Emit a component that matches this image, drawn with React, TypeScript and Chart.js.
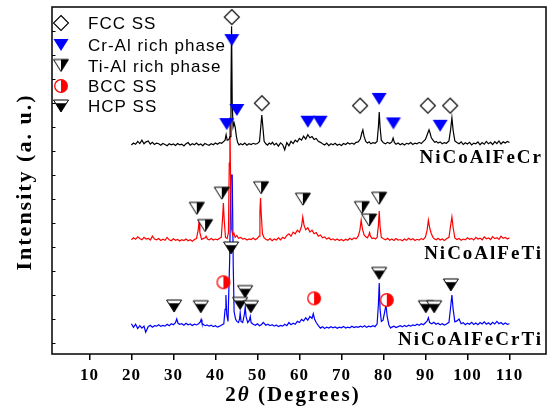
import { useEffect, useRef } from 'react';
import { Chart, registerables } from 'chart.js';

Chart.register(...registerables);

type Pt = [number, number];

// 2θ (deg), displayed intensity (a.u., offset traces)
const traceCr: Pt[] = [
  [20, 8.25], [20.5, 8.33], [21, 8.28], [21.5, 8.4], [22, 8.31], [22.5, 8.45], [23, 8.3], [23.5, 8.38], [24, 8.42], [24.5, 8.29],
  [25, 8.36], [25.5, 8.27], [26, 8.33], [26.5, 8.3], [27, 8.24], [27.5, 8.31], [28, 8.27], [28.5, 8.22], [29, 8.3], [29.5, 8.26],
  [30, 8.29], [30.5, 8.23], [31, 8.31], [31.5, 8.26], [32, 8.28], [32.5, 8.21], [33, 8.3], [33.5, 8.35], [34, 8.24], [34.5, 8.3],
  [35, 8.26], [35.5, 8.33], [36, 8.25], [36.5, 8.29], [37, 8.22], [37.5, 8.31], [38, 8.27], [38.5, 8.24], [39, 8.3], [39.5, 8.26],
  [40, 8.33], [40.5, 8.28], [41, 8.35], [41.5, 8.32], [42, 8.4], [42.3, 8.45], [42.55, 8.68], [42.8, 8.45], [43.2, 8.48], [43.5, 8.6],
  [43.7, 10.5], [43.85, 13.2], [44.0, 10.0], [44.2, 9.0], [44.45, 9.17], [44.7, 9.0], [45.0, 8.6], [45.3, 8.35], [45.6, 8.25], [46, 8.3],
  [46.5, 8.26], [47, 8.33], [47.5, 8.24], [48, 8.3], [48.5, 8.27], [49, 8.32], [49.5, 8.29], [50, 8.31], [50.5, 8.4], [50.8, 9.0],
  [51.05, 9.5], [51.3, 9.0], [51.6, 8.4], [52, 8.3], [52.4, 8.24], [52.8, 8.33], [53.2, 8.28], [53.6, 8.36], [54, 8.25], [54.5, 8.32],
  [55, 8.2], [55.5, 8.34], [56, 8.27], [56.5, 8.05], [57, 8.35], [57.5, 8.22], [58, 8.4], [58.5, 8.31], [59, 8.45], [59.5, 8.38],
  [60, 8.52], [60.5, 8.45], [61, 8.62], [61.5, 8.5], [62, 8.68], [62.5, 8.55], [63, 8.6], [63.5, 8.48], [64, 8.52], [64.5, 8.4],
  [65, 8.36], [65.5, 8.3], [66, 8.25], [66.5, 8.33], [67, 8.22], [67.5, 8.3], [68, 8.26], [68.5, 8.32], [69, 8.24], [69.5, 8.28],
  [70, 8.23], [70.5, 8.31], [71, 8.27], [71.5, 8.34], [72, 8.29], [72.5, 8.33], [73, 8.28], [73.5, 8.36], [74, 8.38], [74.5, 8.5],
  [74.85, 8.75], [75.1, 8.88], [75.4, 8.6], [75.8, 8.4], [76.2, 8.33], [76.6, 8.38], [77, 8.3], [77.5, 8.35], [78, 8.32], [78.5, 8.4],
  [78.8, 9.0], [79.0, 9.62], [79.2, 9.0], [79.5, 8.45], [80, 8.34], [80.5, 8.3], [81, 8.36], [81.5, 8.31], [82, 8.38], [82.3, 8.54],
  [82.6, 8.36], [83, 8.28], [83.5, 8.33], [84, 8.26], [84.5, 8.31], [85, 8.25], [85.5, 8.32], [86, 8.29], [86.5, 8.35], [87, 8.27],
  [87.5, 8.33], [88, 8.3], [88.5, 8.36], [89, 8.31], [89.5, 8.4], [90, 8.48], [90.5, 8.72], [90.85, 8.88], [91.1, 8.75], [91.4, 8.55],
  [91.8, 8.45], [92.2, 8.36], [92.6, 8.4], [93, 8.33], [93.5, 8.38], [94, 8.3], [94.5, 8.35], [95, 8.32], [95.6, 8.42], [96.0, 8.9],
  [96.3, 9.38], [96.6, 8.85], [97, 8.42], [97.5, 8.35], [98, 8.3], [98.5, 8.38], [99, 8.27], [99.5, 8.34], [100, 8.29], [100.5, 8.36],
  [101, 8.25], [101.5, 8.33], [102, 8.3], [102.5, 8.38], [103, 8.26], [103.5, 8.35], [104, 8.28], [104.5, 8.4], [105, 8.3], [105.5, 8.36],
  [106, 8.27], [106.5, 8.39], [107, 8.31], [107.5, 8.42], [108, 8.29], [108.5, 8.38], [109, 8.33], [109.5, 8.4], [110, 8.35],
];

const traceTi: Pt[] = [
  [20, 4.3], [20.5, 4.38], [21, 4.32], [21.5, 4.42], [22, 4.35], [22.5, 4.3], [23, 4.4], [23.5, 4.33], [24, 4.36], [24.5, 4.29],
  [25, 4.45], [25.5, 4.33], [26, 4.3], [26.5, 4.35], [27, 4.27], [27.5, 4.32], [28, 4.28], [28.5, 4.4], [29, 4.3], [29.5, 4.26],
  [30, 4.34], [30.5, 4.28], [31, 4.31], [31.5, 4.25], [32, 4.3], [32.5, 4.27], [33, 4.33], [33.5, 4.26], [34, 4.3], [34.5, 4.24],
  [35, 4.31], [35.5, 4.35], [35.9, 4.7], [36.1, 5.05], [36.3, 4.6], [36.7, 4.32], [37.2, 4.36], [37.55, 4.38], [37.8, 4.45], [38.1, 4.33],
  [38.5, 4.3], [39, 4.35], [39.5, 4.29], [40, 4.33], [40.5, 4.3], [41, 4.36], [41.4, 4.4], [41.7, 5.2], [41.9, 5.83], [42.1, 5.1],
  [42.4, 4.4], [42.8, 4.35], [43.1, 4.6], [43.3, 7.5], [43.45, 9.4], [43.6, 7.0], [43.8, 4.8], [44.1, 4.5], [44.4, 4.58], [44.7, 4.4],
  [45.1, 4.48], [45.5, 4.36], [46, 4.4], [46.5, 4.33], [47, 4.36], [47.5, 4.29], [48, 4.34], [48.5, 4.31], [49, 4.37], [49.5, 4.3],
  [50, 4.36], [50.4, 4.45], [50.6, 5.5], [50.75, 6.04], [50.9, 5.4], [51.2, 4.55], [51.6, 4.38], [52, 4.32], [52.5, 4.28], [53, 4.35],
  [53.5, 4.26], [54, 4.33], [54.5, 4.29], [55, 4.38], [55.5, 4.3], [56, 4.4], [56.5, 4.35], [57, 4.48], [57.5, 4.55], [58, 4.45],
  [58.5, 4.62], [59, 4.55], [59.5, 4.7], [60, 4.62], [60.5, 4.85], [60.8, 5.25], [61.1, 4.9], [61.5, 4.72], [62, 4.8], [62.5, 4.62],
  [63, 4.7], [63.5, 4.55], [64, 4.6], [64.5, 4.45], [65, 4.5], [65.5, 4.38], [66, 4.42], [66.5, 4.33], [67, 4.38], [67.5, 4.3],
  [68, 4.34], [68.5, 4.28], [69, 4.33], [69.5, 4.27], [70, 4.31], [70.5, 4.26], [71, 4.32], [71.5, 4.28], [72, 4.36], [72.5, 4.3],
  [73, 4.38], [73.5, 4.34], [74, 4.45], [74.4, 4.7], [74.7, 5.12], [75, 4.75], [75.4, 4.5], [75.8, 4.42], [76.2, 4.38], [76.5, 4.5],
  [76.7, 4.6], [76.9, 4.45], [77.3, 4.35], [77.7, 4.38], [78.1, 4.33], [78.5, 4.4], [78.8, 4.9], [79.0, 5.5], [79.2, 4.85], [79.5, 4.4],
  [80, 4.34], [80.5, 4.3], [81, 4.36], [81.5, 4.28], [82, 4.33], [82.5, 4.27], [83, 4.35], [83.5, 4.29], [84, 4.31], [84.5, 4.26],
  [85, 4.33], [85.5, 4.28], [86, 4.36], [86.5, 4.3], [87, 4.34], [87.5, 4.27], [88, 4.32], [88.5, 4.29], [89, 4.35], [89.5, 4.31],
  [90, 4.42], [90.4, 4.7], [90.7, 5.12], [91.0, 4.8], [91.4, 4.55], [91.8, 4.4], [92.2, 4.33], [92.6, 4.3], [93, 4.36], [93.5, 4.29],
  [94, 4.33], [94.5, 4.27], [95, 4.34], [95.6, 4.4], [96.0, 4.9], [96.3, 5.25], [96.6, 4.8], [97, 4.38], [97.5, 4.31], [98, 4.35],
  [98.5, 4.28], [99, 4.33], [99.5, 4.3], [100, 4.38], [100.5, 4.32], [101, 4.36], [101.5, 4.29], [102, 4.4], [102.5, 4.33], [103, 4.37],
  [103.5, 4.3], [104, 4.42], [104.5, 4.34], [105, 4.38], [105.5, 4.31], [106, 4.43], [106.5, 4.35], [107, 4.39], [107.5, 4.32], [108, 4.45],
  [108.5, 4.36], [109, 4.4], [109.5, 4.33], [110, 4.38],
];

const traceCrTi: Pt[] = [
  [20, 0.8], [20.5, 0.65], [21, 0.78], [21.5, 0.6], [22, 0.72], [22.5, 0.62], [23, 0.7], [23.4, 0.45], [24, 0.68], [24.5, 0.74],
  [25, 0.66], [25.5, 0.72], [26, 0.7], [26.5, 0.76], [27, 0.69], [27.5, 0.73], [28, 0.7], [28.5, 0.78], [29, 0.72], [29.5, 0.8],
  [30, 0.76], [30.5, 0.85], [30.8, 1.0], [31.1, 0.82], [31.5, 0.78], [32, 0.8], [32.5, 0.74], [33, 0.82], [33.5, 0.76], [34, 0.79],
  [34.5, 0.73], [35, 0.78], [35.5, 0.75], [36, 0.8], [36.4, 0.88], [36.6, 0.98], [36.8, 0.82], [37.2, 0.76], [37.6, 0.72], [38, 0.75],
  [38.5, 0.7], [39, 0.74], [39.5, 0.68], [40, 0.72], [40.5, 0.66], [41, 0.7], [41.5, 0.75], [42, 0.8], [42.3, 1.4], [42.5, 2.0],
  [42.7, 1.2], [43.0, 0.9], [43.4, 3.5], [43.7, 7.0], [44.0, 7.0], [44.25, 3.2], [44.45, 1.3], [44.8, 1.0], [45.1, 0.9], [45.5, 0.85],
  [45.75, 1.0], [45.9, 1.25], [46.1, 0.9], [46.5, 0.85], [46.9, 1.2], [47.1, 1.5], [47.3, 1.1], [47.7, 0.85], [48.1, 0.95], [48.3, 1.1],
  [48.5, 0.85], [49, 0.78], [49.5, 0.74], [50, 0.8], [50.5, 0.72], [51, 0.77], [51.4, 0.86], [52, 0.74], [52.5, 0.78], [53, 0.72],
  [53.5, 0.76], [54, 0.7], [54.5, 0.75], [55, 0.68], [55.5, 0.73], [56, 0.7], [56.5, 0.78], [57, 0.72], [57.5, 0.85], [58, 0.76],
  [58.5, 0.82], [59, 0.78], [59.5, 0.9], [60, 0.85], [60.5, 0.98], [61, 0.92], [61.5, 1.05], [62, 0.95], [62.5, 1.1], [63, 1.02],
  [63.3, 1.22], [63.6, 1.0], [64, 0.85], [64.5, 0.72], [65, 0.62], [65.5, 0.68], [66, 0.6], [66.5, 0.66], [67, 0.62], [67.5, 0.68],
  [68, 0.63], [68.5, 0.67], [69, 0.61], [69.5, 0.66], [70, 0.63], [70.5, 0.69], [71, 0.62], [71.5, 0.66], [72, 0.63], [72.5, 0.7],
  [73, 0.64], [73.5, 0.68], [74, 0.65], [74.5, 0.7], [75, 0.66], [75.5, 0.72], [76, 0.65], [76.5, 0.7], [77, 0.67], [77.5, 0.72],
  [78, 0.68], [78.5, 0.8], [78.8, 1.6], [79.0, 2.5], [79.2, 1.4], [79.5, 0.9], [79.9, 0.95], [80.3, 1.3], [80.6, 1.58], [80.9, 1.1],
  [81.3, 0.75], [81.7, 0.62], [82, 0.66], [82.5, 0.7], [83, 0.64], [83.5, 0.68], [84, 0.72], [84.5, 0.67], [85, 0.73], [85.5, 0.68],
  [86, 0.74], [86.5, 0.7], [87, 0.75], [87.5, 0.72], [88, 0.78], [88.5, 0.74], [89, 0.8], [89.5, 0.76], [90, 0.84], [90.4, 0.92],
  [90.7, 1.05], [91, 0.85], [91.5, 0.8], [92, 0.86], [92.5, 0.78], [93, 0.82], [93.5, 0.76], [94, 0.8], [94.5, 0.75], [95, 0.79],
  [95.6, 0.86], [96.0, 1.5], [96.3, 2.0], [96.6, 1.4], [97, 0.88], [97.5, 0.92], [98, 1.0], [98.5, 0.8], [99, 0.84], [99.5, 0.76],
  [100, 0.82], [100.5, 0.78], [101, 0.86], [101.5, 0.77], [102, 0.83], [102.5, 0.76], [103, 0.85], [103.5, 0.79], [104, 0.88], [104.5, 0.78],
  [105, 0.84], [105.5, 0.76], [106, 0.86], [106.5, 0.79], [107, 0.9], [107.5, 0.8], [108, 0.85], [108.5, 0.77], [109, 0.83], [109.5, 0.78],
  [110, 0.8],
];

// phase marker positions (2θ, displayed height)
const fccMarks: Pt[] = [[43.9, 13.58], [51.05, 9.99], [74.45, 9.89], [90.57, 9.89], [95.88, 9.89]];
const crAlMarks: Pt[] = [[43.9, 12.62], [45.1, 9.71], [42.7, 9.12], [62.0, 9.22], [64.93, 9.22], [78.98, 10.17], [82.38, 9.15], [93.5, 9.05]];
const tiAlMarks: Pt[] = [[35.57, 5.61], [37.55, 4.89], [41.52, 6.24], [50.88, 6.47], [60.81, 5.99], [74.86, 5.64], [76.6, 5.12], [78.98, 6.03]];
const bccMarks: Pt[] = [[41.9, 2.53], [63.5, 1.86], [80.8, 1.79]];
const hcpMarks: Pt[] = [[43.74, 3.96], [30.17, 1.54], [36.52, 1.51], [47.07, 2.14], [45.88, 1.65], [48.43, 1.51], [78.98, 2.9], [90.1, 1.51], [92.07, 1.51], [96.05, 2.42]];

const sampleNames = ['NiCoAlFeCr', 'NiCoAlFeTi', 'NiCoAlFeCrTi'];
const sampleColors = ['#000000', '#ff0000', '#0000ff'];
const legendNames = ['FCC SS', 'Cr-Al rich phase', 'Ti-Al rich phase', 'BCC SS', 'HCP SS'];
const xTickValues = [10, 20, 30, 40, 50, 60, 70, 80, 90, 100, 110];
const yTickValues = [0, 1, 2, 3, 4, 5, 6, 7, 8, 9, 10, 11, 12, 13];

function makeMarker(kind: string): HTMLCanvasElement {
  const c = document.createElement('canvas');
  c.width = 18;
  c.height = 18;
  const g = c.getContext('2d') as CanvasRenderingContext2D;
  const cx = 9, cy = 9;
  g.lineWidth = 1;
  g.lineJoin = 'miter';
  const tri = () => {
    g.beginPath();
    g.moveTo(cx - 7.5, cy - 6);
    g.lineTo(cx + 7.5, cy - 6);
    g.lineTo(cx, cy + 6);
    g.closePath();
  };
  if (kind === 'fcc') {
    g.beginPath();
    g.moveTo(cx, cy - 7.5);
    g.lineTo(cx + 7.5, cy);
    g.lineTo(cx, cy + 7.5);
    g.lineTo(cx - 7.5, cy);
    g.closePath();
    g.fillStyle = '#fff';
    g.fill();
    g.strokeStyle = '#000';
    g.lineWidth = 1.1;
    g.stroke();
  } else if (kind === 'cral') {
    tri();
    g.fillStyle = '#0000ff';
    g.fill();
  } else if (kind === 'tial') {
    tri();
    g.fillStyle = '#fff';
    g.fill();
    g.beginPath();
    g.moveTo(cx, cy - 6);
    g.lineTo(cx + 7.5, cy - 6);
    g.lineTo(cx, cy + 6);
    g.closePath();
    g.fillStyle = '#000';
    g.fill();
    tri();
    g.strokeStyle = '#000';
    g.stroke();
  } else if (kind === 'hcp') {
    tri();
    g.fillStyle = '#000';
    g.fill();
    const f = 1 - 3.2 / 12;
    g.beginPath();
    g.moveTo(cx - 7.5, cy - 6);
    g.lineTo(cx + 7.5, cy - 6);
    g.lineTo(cx + 7.5 * f, cy - 2.8);
    g.lineTo(cx - 7.5 * f, cy - 2.8);
    g.closePath();
    g.fillStyle = '#fff';
    g.fill();
    tri();
    g.strokeStyle = '#000';
    g.stroke();
  } else if (kind === 'bcc') {
    g.beginPath();
    g.arc(cx, cy, 6.3, 0, Math.PI * 2);
    g.fillStyle = '#fff';
    g.fill();
    g.beginPath();
    g.arc(cx, cy, 6.3, -Math.PI / 2, Math.PI / 2);
    g.closePath();
    g.fillStyle = '#ff0000';
    g.fill();
    g.beginPath();
    g.arc(cx, cy, 6.3, 0, Math.PI * 2);
    g.strokeStyle = '#ff0000';
    g.lineWidth = 1.3;
    g.stroke();
  }
  return c;
}

const toXY = (pts: Pt[]) => pts.map(([x, y]) => ({ x, y }));

export default function App() {
  const ref = useRef<HTMLCanvasElement | null>(null);

  useEffect(() => {
    const canvas = ref.current;
    if (!canvas) return;
    const icons = ['fcc', 'cral', 'tial', 'bcc', 'hcp'].map(makeMarker);
    const markSets = [fccMarks, crAlMarks, tiAlMarks, bccMarks, hcpMarks];
    const traces = [traceCr, traceTi, traceCrTi];

    const overlay = {
      id: 'overlay',
      beforeDraw(chart: any) {
        chart.ctx.letterSpacing = '1px';
      },
      afterDraw(chart: any) {
        const ctx = chart.ctx as CanvasRenderingContext2D;
        const a = chart.chartArea;
        const ys = chart.scales.y;
        ctx.save();
        ctx.strokeStyle = '#000';
        ctx.lineWidth = 1.5;
        ctx.strokeRect(a.left, a.top, a.right - a.left, a.bottom - a.top);
        ctx.lineWidth = 1;
        for (const v of yTickValues) {
          const y = Math.round(ys.getPixelForValue(v)) + 0.5;
          ctx.beginPath();
          ctx.moveTo(a.left, y);
          ctx.lineTo(a.left + 3.5, y);
          ctx.stroke();
        }
        // legend
        const legY = [23, 45, 65.5, 86, 106];
        ctx.fillStyle = '#000';
        ctx.font = '17px "Liberation Sans", Arial, sans-serif';
        ctx.letterSpacing = '1px';
        ctx.textAlign = 'left';
        ctx.textBaseline = 'alphabetic';
        legendNames.forEach((name, i) => {
          const ic = icons[i];
          ctx.drawImage(ic, 61 - ic.width / 2, legY[i] - ic.height / 2);
          ctx.fillText(name, 88, legY[i] + 6);
        });
        // sample labels
        ctx.font = 'bold 19px "Liberation Serif", "Times New Roman", serif';
        ctx.letterSpacing = '2px';
        ctx.textAlign = 'right';
        const sy = [163, 259, 345];
        sampleNames.forEach((n, i) => ctx.fillText(n, 543, sy[i]));
        // y title
        ctx.save();
        ctx.translate(31, 182);
        ctx.rotate(-Math.PI / 2);
        ctx.textAlign = 'center';
        ctx.font = 'bold 22px "Liberation Serif", "Times New Roman", serif';
        ctx.letterSpacing = '2px';
        ctx.fillText('Intensity (a. u.)', 0, 0);
        ctx.restore();
        // x title
        const parts: [string, string][] = [
          ['2', 'bold 21px "Liberation Serif", serif'],
          ['θ', 'italic bold 21px "Liberation Serif", serif'],
          [' (Degrees)', 'bold 21px "Liberation Serif", serif'],
        ];
        ctx.letterSpacing = '2px';
        ctx.textAlign = 'left';
        let total = 0;
        for (const [t, f] of parts) {
          ctx.font = f;
          total += ctx.measureText(t).width;
        }
        let x = 293 - total / 2;
        for (const [t, f] of parts) {
          ctx.font = f;
          ctx.fillText(t, x, 401);
          x += ctx.measureText(t).width;
        }
        ctx.restore();
      },
    };

    const datasets: any[] = [];
    markSets.forEach((m, i) => {
      datasets.push({
        data: toXY(m),
        showLine: false,
        pointStyle: icons[i],
        pointRadius: 7,
        order: 0,
      });
    });
    traces.forEach((t, i) => {
      datasets.push({
        data: toXY(t),
        showLine: true,
        borderColor: sampleColors[i],
        borderWidth: 1.2,
        pointRadius: 0,
        tension: 0,
        order: i + 1,
      });
    });

    const chart = new Chart(canvas, {
      type: 'scatter',
      data: { datasets },
      options: {
        responsive: false,
        animation: false,
        events: [],
        layout: { autoPadding: false, padding: { left: 52, top: 7, right: 2, bottom: 0 } },
        plugins: { legend: { display: false }, tooltip: { enabled: false } },
        scales: {
          x: {
            type: 'linear',
            min: 1.1,
            max: 118.7,
            afterBuildTicks: (s: any) => {
              s.ticks = xTickValues.map((v) => ({ value: v }));
            },
            afterFit: (s: any) => {
              s.height = 52;
            },
            grid: { display: true, drawOnChartArea: false, drawTicks: true, tickLength: 6, color: '#000', lineWidth: 1.5 },
            border: { display: false },
            ticks: {
              color: '#000',
              padding: 5,
              maxRotation: 0,
              autoSkip: false,
              font: { family: '"Liberation Serif", "Times New Roman", serif', size: 17, weight: 'bold' },
            },
          },
          y: { type: 'linear', min: -0.46, max: 14, display: false },
        },
      },
      plugins: [overlay],
    } as any);
    return () => chart.destroy();
  }, []);

  return (
    <div style={{ position: 'fixed', left: 0, top: 0, width: 548, height: 406, background: '#fff' }}>
      <canvas ref={ref} width={548} height={406} style={{ display: 'block' }} />
    </div>
  );
}
